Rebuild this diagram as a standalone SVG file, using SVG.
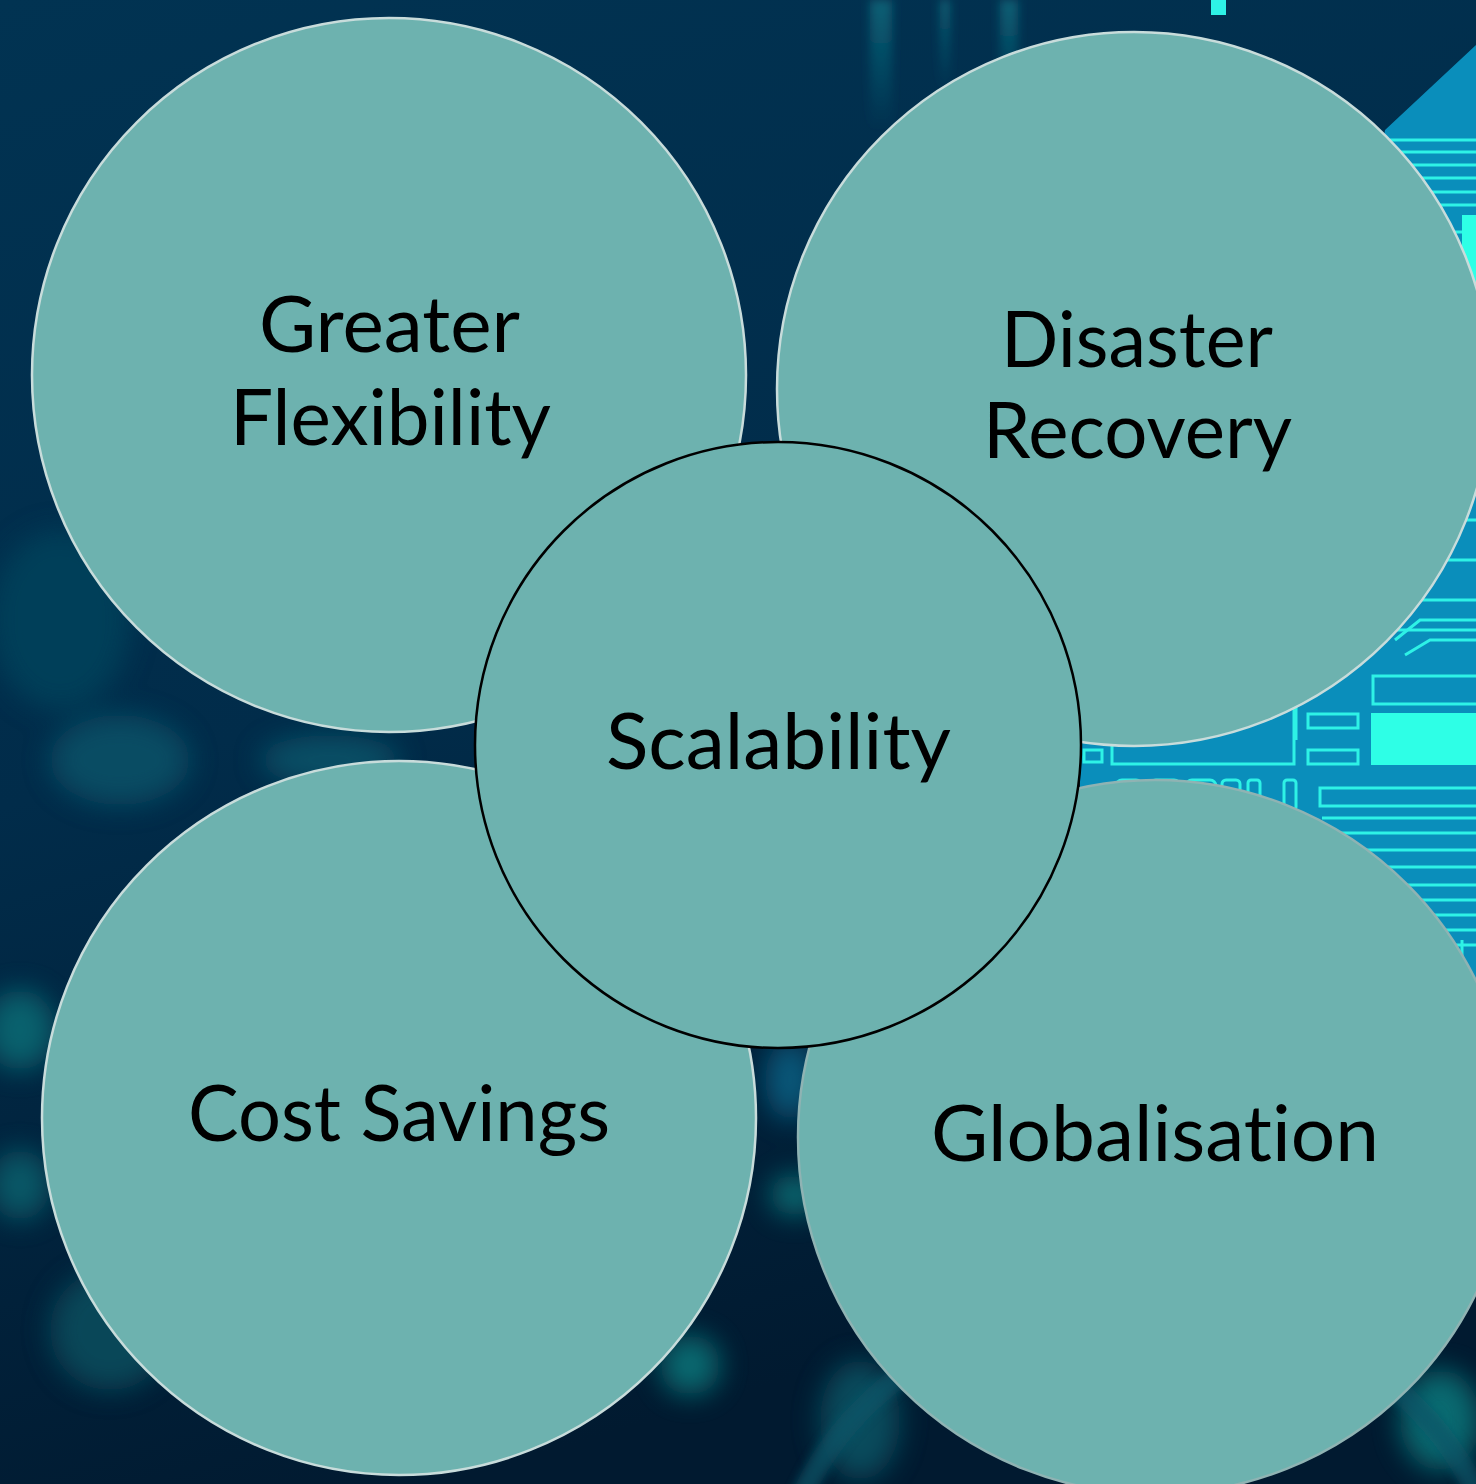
<svg xmlns="http://www.w3.org/2000/svg" width="1476" height="1484" viewBox="0 0 1476 1484">
<style>
.node{fill:#6db2af;stroke:#c8dcdb;stroke-width:2.5}
.center{fill:#6db2af;stroke:#000;stroke-width:2.5}
.lbl{font-family:Lato,"Open Sans",sans-serif;font-size:78px;fill:#000;text-anchor:middle;font-variant-ligatures:none;font-feature-settings:"liga" 0,"dlig" 0}
.trace{fill:none;stroke:#2ef2e6;stroke-width:3}
.pad{fill:#2effe6}
</style>
<defs>
<linearGradient id="bg" x1="0" y1="0" x2="0.3" y2="1">
<stop offset="0" stop-color="#013352"/>
<stop offset="0.5" stop-color="#012c4a"/>
<stop offset="1" stop-color="#011a30"/>
</linearGradient>
<filter id="blur" x="-50%" y="-50%" width="200%" height="200%"><feGaussianBlur stdDeviation="14"/></filter>
<filter id="blur2" x="-50%" y="-50%" width="200%" height="200%"><feGaussianBlur stdDeviation="5"/></filter>
<linearGradient id="streak" x1="0" y1="0" x2="0" y2="1">
<stop offset="0" stop-color="#0b6579" stop-opacity="0.9"/>
<stop offset="1" stop-color="#0b6579" stop-opacity="0"/>
</linearGradient>
</defs>
<g id="background">
<rect x="0" y="0" width="1476" height="1484" fill="url(#bg)"/>
<g filter="url(#blur)" opacity="0.7">
<ellipse cx="60" cy="620" rx="70" ry="90" fill="#05465f"/>
<ellipse cx="120" cy="760" rx="70" ry="45" fill="#0a5a6e"/>
<ellipse cx="330" cy="760" rx="70" ry="25" fill="#0a5e72"/>
<ellipse cx="20" cy="1030" rx="35" ry="40" fill="#0d7a80"/>
<ellipse cx="20" cy="1185" rx="30" ry="35" fill="#0c6e78"/>
<ellipse cx="110" cy="1330" rx="60" ry="60" fill="#0a5866"/>
<ellipse cx="200" cy="1280" rx="45" ry="45" fill="#0c6a74"/>
<ellipse cx="690" cy="1365" rx="30" ry="30" fill="#0e8c8c"/>
<ellipse cx="795" cy="1195" rx="25" ry="20" fill="#0e8c8c"/>
<ellipse cx="790" cy="1080" rx="25" ry="40" fill="#0a6f95"/>
<ellipse cx="1440" cy="1420" rx="40" ry="50" fill="#0e8c8c"/>
<ellipse cx="860" cy="1420" rx="40" ry="60" fill="#0a6070"/>
</g>
<g filter="url(#blur2)">
<rect x="870" y="0" width="22" height="130" fill="url(#streak)"/>
<rect x="1000" y="0" width="18" height="110" fill="url(#streak)"/>
<rect x="940" y="0" width="10" height="90" fill="url(#streak)"/>
</g>
<ellipse cx="1140" cy="1600" rx="360" ry="300" fill="none" stroke="#0a5468" stroke-width="22" opacity="0.7" filter="url(#blur2)"/>
<rect x="1211" y="0" width="15" height="15" fill="#2ef2e6"/>
<path d="M1385,130 L1476,45 L1476,1010 L1340,1010 L1080,800 L1080,680 L1300,640 Z" fill="#0a8ebb"/>
<g class="traces">
<path class="trace" d="M1390,140 H1476 M1382,152 H1476 M1375,165 H1476 M1370,178 H1476 M1395,192 H1476 M1400,205 H1476 M1400,232 H1476 M1400,258 H1476 M1395,300 H1476 M1395,330 H1476 M1400,360 H1476 M1400,400 H1476 M1400,440 H1476 M1400,480 H1476 M1400,520 H1476 M1390,560 H1476 M1380,600 H1476 M1370,630 H1476"/>
<rect class="pad" x="1462" y="215" width="14" height="70"/>
<rect class="trace" x="1373" y="676" width="110" height="28"/>
<rect class="pad" x="1371" y="713" width="110" height="52"/>
<rect class="trace" x="1308" y="714" width="50" height="14"/>
<rect class="trace" x="1308" y="750" width="50" height="14"/>
<rect class="trace" x="1112" y="700" width="182" height="64"/>
<rect class="trace" x="1084" y="750" width="18" height="12"/>
<path class="trace" d="M1296,690 V740"/>
<rect class="trace" x="1116" y="780" width="26" height="30" rx="6"/>
<rect class="trace" x="1150" y="780" width="30" height="30" rx="6"/>
<rect class="trace" x="1186" y="780" width="30" height="30" rx="6"/>
<rect class="trace" x="1222" y="780" width="18" height="30" rx="4"/>
<rect class="trace" x="1248" y="780" width="12" height="30" rx="3"/>
<rect class="trace" x="1284" y="780" width="12" height="30" rx="3"/>
<rect class="trace" x="1320" y="788" width="170" height="18"/>
<path class="trace" d="M1322,818 H1476 M1330,833 H1476 M1340,850 H1476 M1350,867 H1476 M1360,885 H1476 M1380,900 H1476 M1390,915 H1476 M1400,930 H1476 M1410,945 H1476 M1450,940 V1000 M1462,940 V1000"/>
<path class="trace" d="M1395,640 L1420,620 H1476 M1405,655 L1430,640 H1476"/>
</g>
</g>
<g id="connectors"></g>
<g id="node-greater-flexibility">
<circle class="node" cx="389" cy="375" r="357"/>
<text class="lbl" x="389.5" y="352" textLength="261" lengthAdjust="spacingAndGlyphs">Greater</text>
<text class="lbl" x="390.5" y="445" textLength="321" lengthAdjust="spacingAndGlyphs">Flexibility</text>
</g>
<g id="node-disaster-recovery">
<circle class="node" cx="1134" cy="389" r="357"/>
<text class="lbl" x="1137" y="367" textLength="272" lengthAdjust="spacingAndGlyphs">Disaster</text>
<text class="lbl" x="1137.5" y="458" textLength="309" lengthAdjust="spacingAndGlyphs">Recovery</text>
</g>
<g id="node-cost-savings">
<circle class="node" cx="399" cy="1118" r="357"/>
<text class="lbl" x="399" y="1141" textLength="422" lengthAdjust="spacingAndGlyphs">Cost Savings</text>
</g>
<g id="node-globalisation">
<circle class="node" cx="1155" cy="1137" r="357" style="stroke:#8fb3b3"/>
<text class="lbl" x="1155" y="1161" textLength="448" lengthAdjust="spacingAndGlyphs">Globalisation</text>
</g>
<g id="node-scalability">
<circle class="center" cx="778" cy="745" r="303"/>
<text class="lbl" x="778.5" y="769" textLength="345" lengthAdjust="spacingAndGlyphs">Scalability</text>
</g>
</svg>
